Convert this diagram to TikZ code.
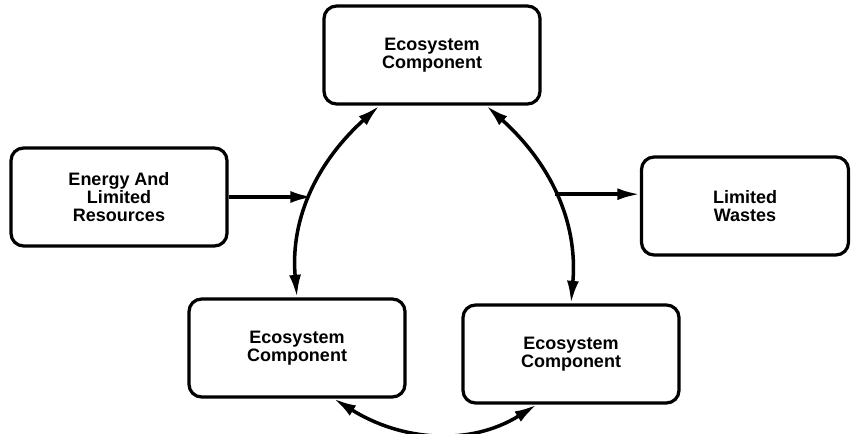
\documentclass[tikz,border=0pt]{standalone}
\usepackage{fontspec}
\setsansfont{Liberation Sans}
\usepackage{tikz}
\usetikzlibrary{arrows,arrows.meta,shapes,calc,positioning}
\tikzstyle{flow}  =[line width=2.5pt,
                    >={Latex[length=16pt,width=8.5pt]}]
\tikzstyle{comp}  =[rectangle, draw, rounded corners=9pt,
                    minimum width=5.4cm, minimum height=2.45cm,
                    line width=2.3pt, align=center, inner sep=2pt,
                    font=\sffamily\bfseries\fontsize{12.8}{12.8}\selectfont]

\begin{document}
\begin{tikzpicture}[x=0.025cm, y=0.025cm, flow]
    \useasboundingbox (0,0) rectangle (851,434);
    \node[comp] (top)    at (432,379) {Ecosystem\\Component};
    \node[comp] (energy) at (119,237) {Energy And\\Limited\\Resources};
    \node[comp, minimum width=5.175cm] (wastes) at (745,228) {Limited\\Wastes};
    \node[comp] (compA)  at (297,86)  {Ecosystem\\Component};
    \node[comp] (compB)  at (571,80)  {Ecosystem\\Component};

    \draw[<->] (top.224) to[out=222, in=95]
        coordinate[pos=0.5] (lmid) (compA.north);
    \draw[<->] (top.-43) to[out=-42, in=85]
        coordinate[pos=0.5] (rmid) (compB.north);
    \draw[<->] (compA.-54) to[out=-32, in=212] (compB.-124);

    \draw[->] (energy.east) -- (energy.east -| lmid);
    \draw[->] (rmid) -- (rmid -| wastes.west);
\end{tikzpicture}
\end{document}
